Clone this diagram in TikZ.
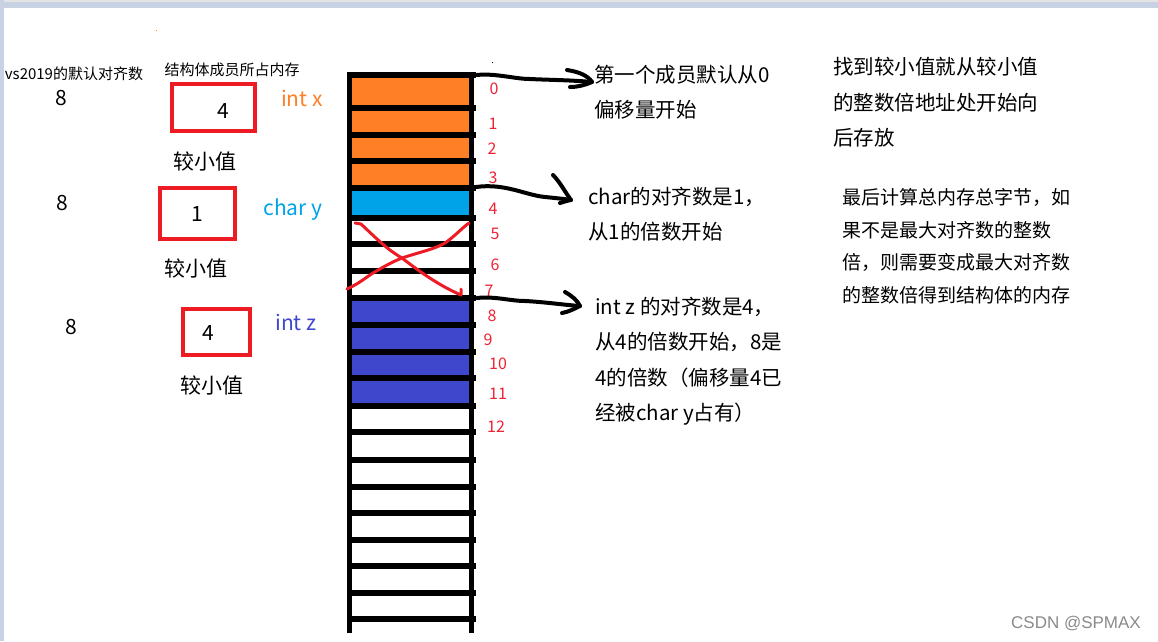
\documentclass[tikz,border=0pt]{standalone}
\usepackage{fontspec}
\setmainfont{Noto Sans CJK SC}
\newfontfamily\wmfont{Liberation Sans}
\definecolor{cellorange}{HTML}{FF7F27}
\definecolor{cellblue}{HTML}{00A2E8}
\definecolor{cellindigo}{HTML}{3F48CC}
\definecolor{boxred}{HTML}{ED1C24}
\definecolor{numred}{HTML}{EE2233}
\definecolor{bandblue}{HTML}{C8D2E3}
\definecolor{bandgrey}{HTML}{E4E4E4}
\definecolor{wmgray}{HTML}{8A8A8A}
\begin{document}
\begin{tikzpicture}[x=1pt,y=-1pt,
  big/.style={font=\fontsize{21}{24}\selectfont, inner sep=0},
  mid/.style={font=\fontsize{19}{22}\selectfont, inner sep=0, anchor=west},
  note/.style={font=\fontsize{20.5}{24}\selectfont, inner sep=0, anchor=west},
  idx/.style={font=\fontsize{16}{18}\selectfont, text=numred, inner sep=0},
  hdr/.style={font=\fontsize{15}{17}\selectfont, inner sep=0},
  redbox/.style={draw=boxred, line width=4.5},
  gridline/.style={line width=5.5},
  hand/.style={line width=4, line cap=round, line join=round},
  xline/.style={draw=boxred, line width=3, line cap=round, line join=round}]
\useasboundingbox (0,0) rectangle (1158,641);
% window frame
\fill[bandgrey] (0,0) rectangle (1158,2);
\fill[bandblue] (0,2) rectangle (1158,8);
\fill[bandblue] (0,0) rectangle (4,641);
% stray dots
\fill[cellorange] (155.5,29.5) rectangle (156.5,30.5);
\fill[black] (491.5,61.5) rectangle (492.5,62.5);
% headers
\node[hdr] (h1) at (74,74) {vs2019的默认对齐数};
\node[hdr] (h2) at (232,70) {结构体成员所占内存};
% default alignment numbers
\node[big] (d1) at (61,98) {8};
\node[big] (d2) at (62,203) {8};
\node[big] (d3) at (71,327) {8};
% red boxes
\draw[redbox] (172,84) rectangle (255,131);
\draw[redbox] (160,188) rectangle (235,239);
\draw[redbox] (183,309) rectangle (250,355);
\node[big] (b1) at (223,111) {4};
\node[big] (b2) at (197,214) {1};
\node[big] (b3) at (208,333) {4};
\node[big] (s1) at (205,161) {较小值};
\node[big] (s2) at (196,268) {较小值};
\node[big] (s3) at (212,385) {较小值};
% member names
\node[big, text=cellorange] (mx) at (302,98) {int x};
\node[big, text=cellblue] (my) at (293,210) {char y};
\node[big, text=cellindigo] (mz) at (296,322) {int z};
% memory column
\fill[cellorange] (350,75) rectangle (471,188);
\fill[cellblue] (350,188) rectangle (471,218);
\fill[cellindigo] (350,298) rectangle (471,406);
\foreach \y in {75,108,135,161,188,218,244,271,298,325,352,378,406,432,460,487,513,540,566,593,619}
  \draw[gridline] (347,\y) -- (476,\y);
\draw[gridline] (349.5,73) -- (349.5,633);
\draw[gridline] (471.5,73) -- (471.5,633);
% red cross over padding
\draw[xline] (355,223) -- (361,224) .. controls (378,240) and (388,250) .. (402,258)
  .. controls (420,272) and (440,286) .. (461,295) -- (461,289);
\draw[xline] (347,289) .. controls (360,283) and (365,278) .. (373,273)
  .. controls (385,266) and (392,262) .. (402,258)
  .. controls (420,252) and (435,249) .. (445,243)
  .. controls (455,236) and (462,228) .. (469,223);
% offsets
\node[idx] (i0) at (494,89) {0};
\node[idx] (i1) at (493,124) {1};
\node[idx] (i2) at (492,149) {2};
\node[idx] (i3) at (493,178) {3};
\node[idx] (i4) at (493,209) {4};
\node[idx] (i5) at (495,234) {5};
\node[idx] (i6) at (495,265) {6};
\node[idx] (i7) at (489,291) {7};
\node[idx] (i8) at (492,316) {8};
\node[idx] (i9) at (488,340) {9};
\node[idx] (i10) at (498,364) {10};
\node[idx] (i11) at (498,394) {11};
\node[idx] (i12) at (496,427) {12};
% explanations
\node[note] (t0a) at (594,75) {第一个成员默认从0};
\node[note] (t0b) at (594,110) {偏移量开始};
\node[note] (t1a) at (588,197) {char的对齐数是1，};
\node[note] (t1b) at (588,232) {从1的倍数开始};
\node[note] (t2a) at (595,307) {int z 的对齐数是4，};
\node[note] (t2b) at (595,342) {从4的倍数开始，8是};
\node[note] (t2c) at (595,378) {4的倍数（偏移量4已};
\node[note] (t2d) at (595,414) {经被char y占有）};
\node[note] (r1a) at (833,67) {找到较小值就从较小值};
\node[note] (r1b) at (833,103) {的整数倍地址处开始向};
\node[note] (r1c) at (833,138) {后存放};
\node[mid] (r2a) at (842,197) {最后计算总内存总字节，如};
\node[mid] (r2b) at (842,230) {果不是最大对齐数的整数};
\node[mid] (r2c) at (842,262) {倍，则需要变成最大对齐数};
\node[mid] (r2d) at (842,295) {的整数倍得到结构体的内存};
% arrows
\coordinate (a0) at (477,75);
\coordinate (a1) at (476,187);
\coordinate (a2) at (477,298);
\coordinate (e0) at (592,82);
\coordinate (e1) at (571,200);
\coordinate (e2) at (580,306);
\draw[hand] (a0) .. controls (495,73) and (515,79) .. (530,79) .. controls (550,80) and (570,80) .. (e0);
\draw[hand] (567,70) .. controls (580,72) and (588,76) .. (e0) .. controls (585,85) and (578,87) .. (570,87);
\draw[hand] (a1) .. controls (505,183) and (525,195) .. (545,197) .. controls (555,198) and (565,199) .. (e1);
\draw[hand] (553,175) .. controls (560,182) and (565,192) .. (e1) .. controls (566,201) and (563,202) .. (560,203);
\draw[hand] (a2) .. controls (495,296) and (510,301) .. (525,301) .. controls (545,302) and (565,305) .. (e2);
\draw[hand] (565,292) .. controls (572,296) and (577,300) .. (e2) .. controls (574,309) and (568,312) .. (562,313);
% watermark
\node[font=\wmfont\fontsize{17}{20}\selectfont, text=wmgray, inner sep=0] (wm) at (1076,623) {CSDN @SPMAX};
\end{tikzpicture}
\end{document}
